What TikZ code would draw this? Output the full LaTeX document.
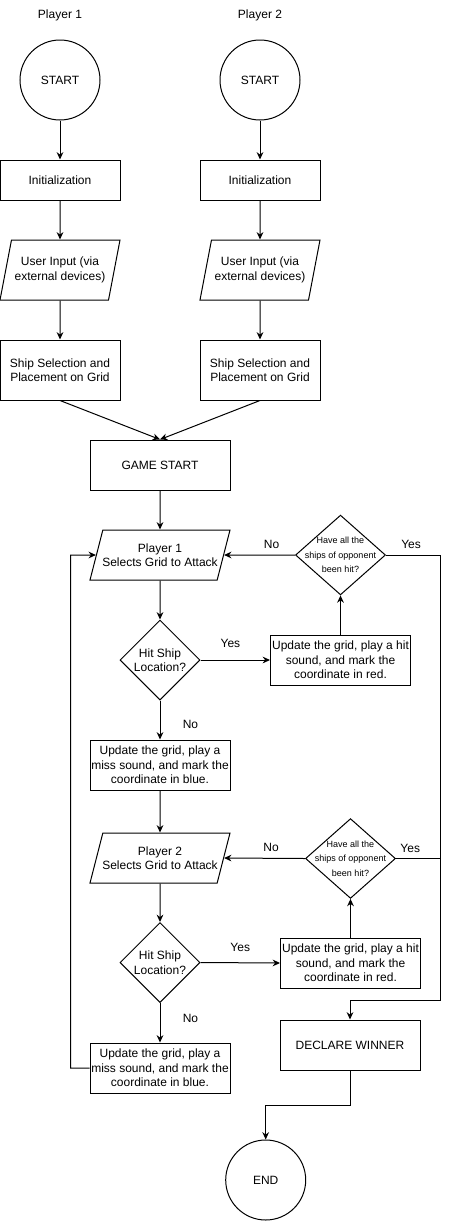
\documentclass[tikz,border=0pt]{standalone}
\usepackage{fontspec}
\setmainfont{Liberation Sans}
\usetikzlibrary{shapes.geometric,arrows.meta}

\begin{document}
\begin{tikzpicture}[x=0.75pt,y=-0.75pt,line width=0.75pt,
		font=\fontsize{9}{10.8}\selectfont,
		>={Stealth[length=5.5pt,width=5pt]},
		term/.style={circle,draw,minimum size=60pt,inner sep=0pt},
		proc/.style={rectangle,draw,minimum width=105pt,minimum height=37.5pt,align=center,inner sep=0pt},
		io/.style={trapezium,draw,trapezium left angle=68.2,trapezium right angle=111.8,
			trapezium stretches body=true,minimum width=105pt,minimum height=37.5pt,align=center,inner xsep=-8pt},
		decide/.style={diamond,draw,minimum width=60pt,minimum height=60pt,align=center,inner sep=0pt},
		check/.style={decide,minimum width=67.5pt,minimum height=56.25pt,inner sep=-5pt,font=\fontsize{6.75}{10.8}\selectfont},
		lbl/.style={inner sep=0pt}]
	\useasboundingbox (0,0) rectangle (449,1221);
	% two players set up
	\node (p1) at (60,15) {Player 1};
	\node (p2) at (260,15) {Player 2};
	\node (start1) [term] at (60,80) {START};
	\node (start2) [term] at (260,80) {START};
	\node (init1) [proc,minimum width=90pt,minimum height=30pt] at (60,180) {Initialization};
	\node (init2) [proc,minimum width=90pt,minimum height=30pt] at (260,180) {Initialization};
	\node (in1) [io,trapezium left angle=71.57,trapezium right angle=108.43,minimum width=90pt,minimum height=45pt] at (60,270) {User Input (via\\external devices)};
	\node (in2) [io,trapezium left angle=71.57,trapezium right angle=108.43,minimum width=90pt,minimum height=45pt] at (260,270) {User Input (via\\external devices)};
	\node (place1) [proc,minimum width=90pt,minimum height=45pt] at (60,370) {Ship Selection and\\Placement on Grid};
	\node (place2) [proc,minimum width=90pt,minimum height=45pt] at (260,370) {Ship Selection and\\Placement on Grid};
	\node (game) [proc] at (160,465) {GAME START};
	% game loop
	\node (sel1) [io] at (160,555) {Player 1\\Selects Grid to Attack};
	\node (chk1) [check] at (340.5,555) {Have all the\\ships of opponent\\been hit?};
	\node (hit1) [decide] at (160,660) {Hit Ship\\Location?};
	\node (upd1) [proc] at (340.5,660) {Update the grid, play a hit\\sound, and mark the\\coordinate in red.};
	\node (miss1) [proc] at (160,765) {Update the grid, play a\\miss sound, and mark the\\coordinate in blue.};
	\node (sel2) [io] at (160,858) {Player 2\\Selects Grid to Attack};
	\node (chk2) [check] at (350.5,858.5) {Have all the\\ships of opponent\\been hit?};
	\node (hit2) [decide] at (160,962.5) {Hit Ship\\Location?};
	\node (upd2) [proc] at (350.5,963) {Update the grid, play a hit\\sound, and mark the\\coordinate in red.};
	\node (miss2) [proc] at (160,1068) {Update the grid, play a\\miss sound, and mark the\\coordinate in blue.};
	\node (win) [proc] at (350,1045) {DECLARE WINNER};
	\node (endn) [term] at (265.7,1180) {END};
	\coordinate (lft) at (70.5,555);
	\coordinate (rt) at (440.5,1000.5);
	\coordinate (bend) at (265.7,1105);
	\path[->]
	(start1) edge (init1)
	(init1) edge (in1)
	(in1) edge (place1)
	(start2) edge (init2)
	(init2) edge (in2)
	(in2) edge (place2)
	(place1.south) edge (game.north)
	(place2.south) edge (game.north)
	(game) edge (sel1)
	(sel1) edge (hit1)
	(hit1.east) edge node[lbl,above=8.8pt,pos=0.43]{Yes} (upd1.west)
	(upd1.north) edge (chk1.south)
	(chk1.west) edge node[lbl,above=4.3pt,pos=0.33]{No} (sel1.east)
	(hit1.south) edge node[lbl,right=16.7pt,pos=0.625]{No} (miss1.north)
	(miss1) edge (sel2)
	(sel2) edge (hit2)
	(hit2.east) edge node[lbl,above=8pt,pos=0.5]{Yes} (upd2.west)
	(upd2.north) edge (chk2.south)
	(chk2.west) edge node[lbl,above=4.3pt,pos=0.42]{No} (sel2.east)
	(hit2.south) edge node[lbl,right=16.7pt,pos=0.39]{No} (miss2.north);
	\draw[->] (miss2.west) -| (lft) -- (sel1.west);
	\draw[->] (chk1.east) -| node[lbl,above=4.3pt,pos=0.23]{Yes} (rt) -| (win.north);
	\draw (chk2.east) -- node[lbl,above=4.3pt,pos=0.32]{Yes} (chk2.east -| rt);
	\draw[->] (win.south) |- (bend) -- (endn.north);
\end{tikzpicture}
\end{document}
